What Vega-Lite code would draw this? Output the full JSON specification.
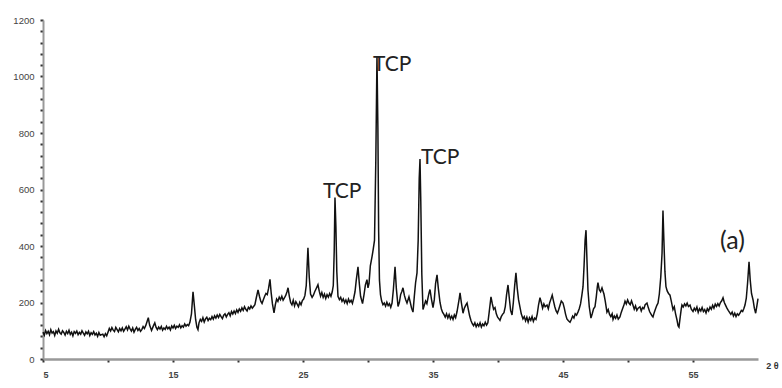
{
"$schema": "https://vega.github.io/schema/vega-lite/v6.json",
"width": 715, "height": 339,
"autosize": {"type": "none"},
"padding": {"left": 43, "top": 20, "right": 24, "bottom": 29},
"background": "white",
"config": {"view": {"stroke": null}, "axis": {"labelOverlap": false, "labelBound": false}},
"datasets": {
"xrd": [
{"t":5.00,"i":95},{"t":5.10,"i":84},{"t":5.20,"i":101},{"t":5.30,"i":90},{"t":5.40,"i":98},{"t":5.50,"i":86},{"t":5.60,"i":104},{"t":5.70,"i":92},{"t":5.80,"i":97},{"t":5.90,"i":83},
{"t":6.00,"i":99},{"t":6.10,"i":91},{"t":6.20,"i":105},{"t":6.30,"i":93},{"t":6.40,"i":88},{"t":6.50,"i":100},{"t":6.60,"i":94},{"t":6.70,"i":85},{"t":6.80,"i":98},{"t":6.90,"i":90},
{"t":7.00,"i":102},{"t":7.10,"i":87},{"t":7.20,"i":95},{"t":7.30,"i":82},{"t":7.40,"i":97},{"t":7.50,"i":91},{"t":7.60,"i":99},{"t":7.70,"i":86},{"t":7.80,"i":94},{"t":7.90,"i":88},
{"t":8.00,"i":100},{"t":8.10,"i":92},{"t":8.20,"i":84},{"t":8.30,"i":96},{"t":8.40,"i":89},{"t":8.50,"i":98},{"t":8.60,"i":83},{"t":8.70,"i":93},{"t":8.80,"i":87},{"t":8.90,"i":97},
{"t":9.00,"i":85},{"t":9.10,"i":91},{"t":9.20,"i":80},{"t":9.30,"i":94},{"t":9.40,"i":84},{"t":9.60,"i":88},{"t":9.70,"i":79},{"t":9.80,"i":90},{"t":9.90,"i":82},
{"t":10.00,"i":95},{"t":10.10,"i":108},{"t":10.20,"i":99},{"t":10.30,"i":111},{"t":10.40,"i":102},{"t":10.50,"i":97},{"t":10.60,"i":112},{"t":10.70,"i":104},{"t":10.80,"i":96},{"t":10.90,"i":108},
{"t":11.00,"i":100},{"t":11.10,"i":110},{"t":11.20,"i":98},{"t":11.30,"i":106},{"t":11.40,"i":114},{"t":11.50,"i":103},{"t":11.60,"i":116},{"t":11.70,"i":107},{"t":11.80,"i":99},{"t":11.90,"i":110},
{"t":12.00,"i":95},{"t":12.10,"i":105},{"t":12.20,"i":112},{"t":12.30,"i":101},{"t":12.40,"i":108},{"t":12.50,"i":98},{"t":12.60,"i":104},{"t":12.70,"i":115},{"t":12.80,"i":108},{"t":12.90,"i":118},
{"t":13.00,"i":132},{"t":13.10,"i":146},{"t":13.20,"i":120},{"t":13.35,"i":101},{"t":13.50,"i":118},{"t":13.60,"i":128},{"t":13.70,"i":112},{"t":13.80,"i":104},{"t":13.90,"i":113},
{"t":14.00,"i":106},{"t":14.10,"i":115},{"t":14.20,"i":102},{"t":14.30,"i":110},{"t":14.40,"i":105},{"t":14.50,"i":116},{"t":14.60,"i":107},{"t":14.70,"i":113},{"t":14.80,"i":103},{"t":14.90,"i":117},
{"t":15.00,"i":110},{"t":15.10,"i":119},{"t":15.20,"i":108},{"t":15.30,"i":116},{"t":15.40,"i":112},{"t":15.50,"i":121},{"t":15.60,"i":110},{"t":15.70,"i":118},{"t":15.80,"i":113},{"t":15.90,"i":124},
{"t":16.00,"i":116},{"t":16.10,"i":122},{"t":16.20,"i":118},{"t":16.30,"i":130},{"t":16.42,"i":160},{"t":16.54,"i":238},{"t":16.64,"i":190},{"t":16.74,"i":140},{"t":16.84,"i":112},{"t":16.92,"i":104},
{"t":17.00,"i":128},{"t":17.10,"i":140},{"t":17.20,"i":133},{"t":17.30,"i":146},{"t":17.40,"i":131},{"t":17.50,"i":142},{"t":17.60,"i":148},{"t":17.70,"i":136},{"t":17.80,"i":144},{"t":17.90,"i":139},
{"t":18.00,"i":150},{"t":18.10,"i":141},{"t":18.20,"i":153},{"t":18.30,"i":145},{"t":18.40,"i":156},{"t":18.50,"i":147},{"t":18.60,"i":158},{"t":18.70,"i":150},{"t":18.80,"i":143},{"t":18.90,"i":155},
{"t":19.00,"i":160},{"t":19.10,"i":149},{"t":19.20,"i":158},{"t":19.30,"i":164},{"t":19.40,"i":153},{"t":19.50,"i":168},{"t":19.60,"i":159},{"t":19.70,"i":170},{"t":19.80,"i":161},{"t":19.90,"i":174},
{"t":20.00,"i":165},{"t":20.10,"i":177},{"t":20.20,"i":169},{"t":20.30,"i":181},{"t":20.40,"i":172},{"t":20.50,"i":185},{"t":20.60,"i":176},{"t":20.70,"i":170},{"t":20.80,"i":183},{"t":20.90,"i":177},
{"t":21.00,"i":188},{"t":21.10,"i":180},{"t":21.20,"i":186},{"t":21.30,"i":192},{"t":21.40,"i":215},{"t":21.54,"i":245},{"t":21.65,"i":222},{"t":21.75,"i":205},{"t":21.85,"i":197},{"t":21.95,"i":210},
{"t":22.05,"i":222},{"t":22.15,"i":232},{"t":22.25,"i":228},{"t":22.35,"i":250},{"t":22.46,"i":282},{"t":22.55,"i":235},{"t":22.65,"i":195},{"t":22.77,"i":163},{"t":22.87,"i":192},{"t":22.97,"i":212},
{"t":23.07,"i":204},{"t":23.17,"i":219},{"t":23.27,"i":210},{"t":23.37,"i":222},{"t":23.47,"i":208},{"t":23.57,"i":216},{"t":23.67,"i":225},{"t":23.77,"i":238},{"t":23.85,"i":252},{"t":23.95,"i":222},
{"t":24.05,"i":200},{"t":24.15,"i":192},{"t":24.25,"i":208},{"t":24.35,"i":188},{"t":24.45,"i":203},{"t":24.55,"i":194},{"t":24.65,"i":185},{"t":24.75,"i":201},{"t":24.85,"i":192},{"t":24.95,"i":207},
{"t":25.05,"i":212},{"t":25.15,"i":225},{"t":25.25,"i":260},{"t":25.38,"i":394},{"t":25.48,"i":290},{"t":25.58,"i":230},{"t":25.70,"i":218},{"t":25.80,"i":226},{"t":25.90,"i":238},
{"t":26.00,"i":248},{"t":26.15,"i":263},{"t":26.25,"i":240},{"t":26.35,"i":222},{"t":26.45,"i":235},{"t":26.55,"i":218},{"t":26.65,"i":230},{"t":26.75,"i":214},{"t":26.85,"i":228},{"t":26.95,"i":219},
{"t":27.05,"i":232},{"t":27.15,"i":222},{"t":27.25,"i":238},{"t":27.33,"i":260},{"t":27.40,"i":380},{"t":27.46,"i":572},{"t":27.53,"i":470},{"t":27.60,"i":310},{"t":27.69,"i":222},{"t":27.80,"i":210},
{"t":27.90,"i":218},{"t":28.00,"i":204},{"t":28.10,"i":213},{"t":28.20,"i":199},{"t":28.30,"i":209},{"t":28.40,"i":196},{"t":28.50,"i":212},{"t":28.60,"i":201},{"t":28.70,"i":208},{"t":28.80,"i":197},
{"t":28.90,"i":215},{"t":29.00,"i":238},{"t":29.10,"i":280},{"t":29.23,"i":326},{"t":29.33,"i":268},{"t":29.43,"i":222},{"t":29.58,"i":196},{"t":29.70,"i":230},{"t":29.80,"i":262},{"t":29.92,"i":281},
{"t":30.00,"i":252},{"t":30.08,"i":268},{"t":30.18,"i":330},{"t":30.31,"i":362},{"t":30.40,"i":388},{"t":30.50,"i":420},{"t":30.60,"i":700},{"t":30.69,"i":1072},{"t":30.76,"i":820},{"t":30.82,"i":450},
{"t":30.88,"i":280},{"t":30.96,"i":228},{"t":31.05,"i":205},{"t":31.15,"i":192},{"t":31.25,"i":198},{"t":31.35,"i":187},{"t":31.45,"i":201},{"t":31.55,"i":189},{"t":31.65,"i":196},{"t":31.75,"i":183},
{"t":31.85,"i":198},{"t":31.95,"i":245},{"t":32.08,"i":326},{"t":32.18,"i":250},{"t":32.31,"i":186},{"t":32.41,"i":200},{"t":32.51,"i":228},{"t":32.61,"i":240},{"t":32.69,"i":252},{"t":32.80,"i":225},
{"t":32.90,"i":210},{"t":33.00,"i":198},{"t":33.08,"i":210},{"t":33.15,"i":220},{"t":33.25,"i":201},{"t":33.35,"i":180},{"t":33.46,"i":166},{"t":33.56,"i":220},{"t":33.66,"i":270},{"t":33.77,"i":305},
{"t":33.86,"i":420},{"t":33.94,"i":640},{"t":34.00,"i":708},{"t":34.06,"i":560},{"t":34.14,"i":300},{"t":34.23,"i":175},{"t":34.33,"i":190},{"t":34.43,"i":205},{"t":34.53,"i":196},{"t":34.63,"i":220},
{"t":34.70,"i":235},{"t":34.77,"i":246},{"t":34.87,"i":215},{"t":35.00,"i":182},{"t":35.10,"i":210},{"t":35.20,"i":268},{"t":35.31,"i":298},{"t":35.41,"i":250},{"t":35.54,"i":200},{"t":35.64,"i":178},
{"t":35.74,"i":165},{"t":35.84,"i":158},{"t":35.94,"i":148},{"t":36.04,"i":160},{"t":36.14,"i":145},{"t":36.24,"i":157},{"t":36.34,"i":142},{"t":36.44,"i":152},{"t":36.54,"i":140},{"t":36.64,"i":156},
{"t":36.74,"i":146},{"t":36.85,"i":168},{"t":36.95,"i":195},{"t":37.02,"i":215},{"t":37.08,"i":234},{"t":37.18,"i":200},{"t":37.31,"i":162},{"t":37.41,"i":180},{"t":37.51,"i":190},
{"t":37.62,"i":198},{"t":37.72,"i":175},{"t":37.82,"i":152},{"t":37.92,"i":136},{"t":38.02,"i":125},{"t":38.12,"i":118},{"t":38.22,"i":128},{"t":38.32,"i":114},{"t":38.42,"i":124},{"t":38.52,"i":116},
{"t":38.62,"i":128},{"t":38.72,"i":113},{"t":38.82,"i":124},{"t":38.92,"i":118},{"t":39.02,"i":130},{"t":39.12,"i":120},{"t":39.22,"i":128},{"t":39.32,"i":165},{"t":39.46,"i":220},{"t":39.56,"i":196},
{"t":39.66,"i":176},{"t":39.77,"i":182},{"t":39.87,"i":160},{"t":39.97,"i":148},{"t":40.07,"i":142},{"t":40.15,"i":137},{"t":40.25,"i":150},{"t":40.35,"i":158},{"t":40.46,"i":164},{"t":40.56,"i":185},
{"t":40.66,"i":228},{"t":40.77,"i":262},{"t":40.87,"i":215},{"t":40.97,"i":172},{"t":41.08,"i":156},{"t":41.18,"i":200},{"t":41.28,"i":258},{"t":41.38,"i":305},{"t":41.48,"i":250},{"t":41.58,"i":210},
{"t":41.69,"i":184},{"t":41.79,"i":160},{"t":41.92,"i":142},{"t":42.02,"i":150},{"t":42.12,"i":135},{"t":42.22,"i":148},{"t":42.32,"i":131},{"t":42.42,"i":146},{"t":42.52,"i":137},{"t":42.62,"i":150},
{"t":42.72,"i":133},{"t":42.82,"i":145},{"t":42.92,"i":140},{"t":43.02,"i":160},{"t":43.12,"i":192},{"t":43.23,"i":217},{"t":43.33,"i":200},{"t":43.43,"i":180},{"t":43.53,"i":195},{"t":43.63,"i":185},
{"t":43.77,"i":191},{"t":43.87,"i":178},{"t":43.97,"i":198},{"t":44.07,"i":212},{"t":44.17,"i":226},{"t":44.27,"i":205},{"t":44.37,"i":185},{"t":44.47,"i":170},{"t":44.57,"i":162},{"t":44.67,"i":175},
{"t":44.77,"i":190},{"t":44.87,"i":205},{"t":45.00,"i":198},{"t":45.10,"i":180},{"t":45.20,"i":158},{"t":45.30,"i":142},{"t":45.40,"i":136},{"t":45.54,"i":130},{"t":45.64,"i":140},{"t":45.74,"i":152},
{"t":45.84,"i":145},{"t":45.94,"i":160},{"t":46.04,"i":155},{"t":46.15,"i":166},{"t":46.25,"i":178},{"t":46.35,"i":195},{"t":46.45,"i":225},{"t":46.54,"i":256},{"t":46.62,"i":330},{"t":46.70,"i":420},
{"t":46.77,"i":456},{"t":46.85,"i":340},{"t":46.92,"i":244},{"t":47.02,"i":185},{"t":47.15,"i":145},{"t":47.25,"i":160},{"t":47.35,"i":178},{"t":47.46,"i":185},{"t":47.56,"i":220},{"t":47.64,"i":255},
{"t":47.69,"i":270},{"t":47.79,"i":245},{"t":47.89,"i":238},{"t":48.00,"i":252},{"t":48.08,"i":240},{"t":48.15,"i":230},{"t":48.25,"i":205},{"t":48.38,"i":166},{"t":48.48,"i":175},{"t":48.58,"i":158},
{"t":48.68,"i":150},{"t":48.78,"i":160},{"t":48.85,"i":140},{"t":48.95,"i":152},{"t":49.05,"i":144},{"t":49.15,"i":156},{"t":49.25,"i":141},{"t":49.38,"i":149},{"t":49.48,"i":165},{"t":49.58,"i":178},
{"t":49.68,"i":190},{"t":49.77,"i":205},{"t":49.87,"i":195},{"t":49.97,"i":209},{"t":50.07,"i":198},{"t":50.17,"i":192},{"t":50.27,"i":206},{"t":50.38,"i":191},{"t":50.48,"i":176},{"t":50.58,"i":188},
{"t":50.68,"i":172},{"t":50.78,"i":180},{"t":50.92,"i":185},{"t":51.02,"i":170},{"t":51.12,"i":182},{"t":51.22,"i":178},{"t":51.32,"i":192},{"t":51.46,"i":198},{"t":51.56,"i":182},{"t":51.66,"i":168},
{"t":51.76,"i":160},{"t":51.86,"i":152},{"t":51.92,"i":149},{"t":52.02,"i":165},{"t":52.12,"i":178},{"t":52.22,"i":190},{"t":52.31,"i":198},{"t":52.41,"i":230},{"t":52.52,"i":290},{"t":52.62,"i":375},
{"t":52.69,"i":526},{"t":52.76,"i":420},{"t":52.84,"i":310},{"t":52.92,"i":256},{"t":53.02,"i":240},{"t":53.12,"i":232},{"t":53.23,"i":226},{"t":53.33,"i":205},{"t":53.46,"i":175},{"t":53.56,"i":185},
{"t":53.66,"i":160},{"t":53.77,"i":138},{"t":53.85,"i":118},{"t":53.92,"i":113},{"t":54.02,"i":150},{"t":54.10,"i":178},{"t":54.15,"i":191},{"t":54.25,"i":184},{"t":54.35,"i":195},{"t":54.45,"i":188},
{"t":54.55,"i":198},{"t":54.65,"i":186},{"t":54.77,"i":191},{"t":54.87,"i":176},{"t":55.00,"i":168},{"t":55.10,"i":180},{"t":55.20,"i":172},{"t":55.30,"i":184},{"t":55.40,"i":165},{"t":55.50,"i":178},
{"t":55.60,"i":170},{"t":55.70,"i":182},{"t":55.80,"i":168},{"t":55.90,"i":175},{"t":56.00,"i":163},{"t":56.10,"i":178},{"t":56.20,"i":170},{"t":56.31,"i":184},{"t":56.41,"i":176},{"t":56.51,"i":190},
{"t":56.61,"i":180},{"t":56.71,"i":194},{"t":56.81,"i":186},{"t":56.91,"i":196},{"t":57.01,"i":188},{"t":57.11,"i":200},{"t":57.21,"i":206},{"t":57.31,"i":217},{"t":57.41,"i":200},{"t":57.51,"i":190},
{"t":57.61,"i":180},{"t":57.71,"i":172},{"t":57.81,"i":165},{"t":57.91,"i":158},{"t":58.01,"i":166},{"t":58.11,"i":152},{"t":58.21,"i":162},{"t":58.31,"i":150},{"t":58.41,"i":160},{"t":58.51,"i":155},
{"t":58.62,"i":163},{"t":58.72,"i":172},{"t":58.82,"i":168},{"t":58.92,"i":180},{"t":59.00,"i":191},{"t":59.10,"i":215},{"t":59.20,"i":270},{"t":59.31,"i":344},{"t":59.40,"i":280},{"t":59.50,"i":232},
{"t":59.62,"i":209},{"t":59.72,"i":180},{"t":59.82,"i":162},{"t":59.92,"i":190},{"t":60.00,"i":214}
],
"tcp": [
{"t":26.54,"i":591,"label":"TCP"},
{"t":30.38,"i":1041,"label":"TCP"},
{"t":34.08,"i":711,"label":"TCP"}
],
"tag": [
{"t":57.08,"i":418,"label":"(a)"}
]
},
"layer": [
{
"data": {"name": "xrd"},
"mark": {"type": "line", "color": "#111111", "strokeWidth": 1.5, "interpolate": "linear"},
"encoding": {
"x": {"field": "t", "type": "quantitative",
"scale": {"domain": [5, 60], "nice": false, "zero": false},
"axis": {"values": [5,10,15,20,25,30,35,40,45,50,55], "tickCount": 100, "format": "d",
"labelExpr": "(datum.value - 5) % 10 == 0 ? datum.label : ''",
"labelOverlap": false,
"grid": false, "domainColor": "#999999", "domainWidth": 2.5,
"ticks": true, "tickColor": "#333333", "tickSize": 3, "tickWidth": 2, "tickOpacity": 1,
"labelFont": "Liberation Sans", "labelFontSize": 9, "labelColor": "#444444", "labelPadding": 8, "labelFontWeight": "bold",
"title": "2 θ", "titleFont": "Liberation Sans", "titleFontSize": 9, "titleFontWeight": "bold", "titleColor": "#333333",
"titleX": 729, "titleY": 6, "titleAlign": "center", "titleBaseline": "middle"}
},
"y": {"field": "i", "type": "quantitative",
"scale": {"domain": [0, 1200], "nice": false},
"axis": {"values": [0,40,80,120,160,200,240,280,320,360,400,440,480,520,560,600,640,680,720,760,800,840,880,920,960,1000,1040,1080,1120,1160,1200], "tickCount": 100,
"labelExpr": "datum.value % 200 == 0 ? datum.label : ''",
"labelOverlap": false,
"format": "d", "grid": false, "domainColor": "#999999", "domainWidth": 2,
"ticks": true, "tickColor": "#333333", "tickSize": 3, "tickWidth": 2, "tickOpacity": 1,
"labelFont": "Liberation Sans", "labelFontSize": 9.5, "labelColor": "#444444", "labelPadding": 6,
"title": null}
}
}
},
{
"data": {"name": "tcp"},
"mark": {"type": "text", "align": "left", "baseline": "middle", "font": "Lato", "fontSize": 21, "color": "#222222"},
"encoding": {
"x": {"field": "t", "type": "quantitative"},
"y": {"field": "i", "type": "quantitative"},
"text": {"field": "label"}
}
},
{
"data": {"name": "tag"},
"mark": {"type": "text", "align": "left", "baseline": "middle", "font": "Lato", "fontSize": 25, "color": "#222222"},
"encoding": {
"x": {"field": "t", "type": "quantitative"},
"y": {"field": "i", "type": "quantitative"},
"text": {"field": "label"}
}
}
]
}
